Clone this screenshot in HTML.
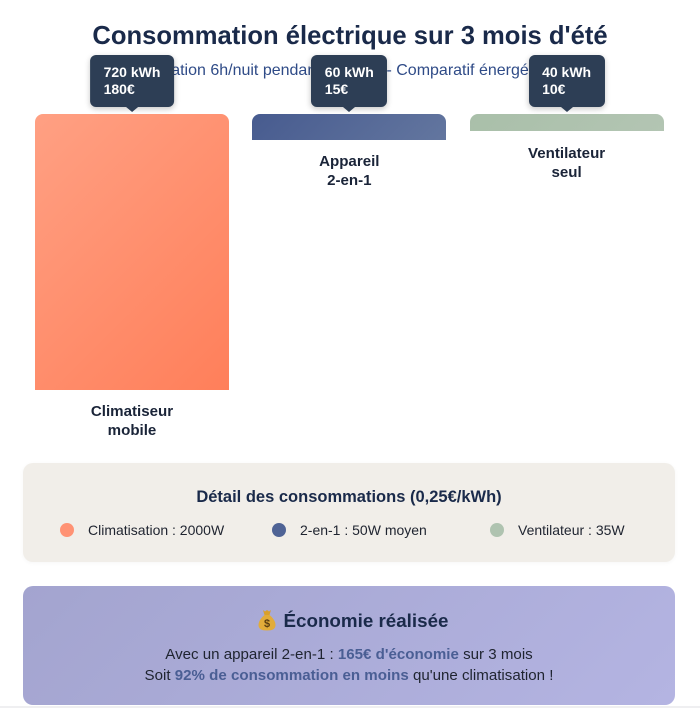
<!DOCTYPE html>
<html lang="fr">
<head>
<meta charset="utf-8">
<title>Consommation électrique sur 3 mois d'été</title>
<style>
html,body{margin:0;padding:0;background:#fff}
body{width:700px;height:708px;position:relative;overflow:hidden;font-family:"Liberation Sans",sans-serif;color:#1a1a2e}
.abs{position:absolute}
#title{left:0;width:700px;top:20px;text-align:center;font-size:25.6px;line-height:32px;font-weight:bold;color:#1a2a4a;white-space:nowrap}
#subtitle{left:0;width:700px;top:60px;text-align:center;font-size:16px;line-height:22px;color:#2f4b87;white-space:nowrap}
.bar{position:absolute;width:194px;top:113.8px;border-radius:8px 8px 0 0}
.tip{position:absolute;top:55px;height:52px;box-sizing:border-box;padding:9px 13.5px;background:#2d3e55;color:#fff;font-weight:bold;font-size:14px;line-height:16.5px;border-radius:6px;box-shadow:0 2px 6px rgba(0,0,0,.22);white-space:nowrap;transform:translateX(-50%)}
.tip:after{content:"";position:absolute;left:50%;margin-left:-6px;bottom:-5px;border-left:6px solid transparent;border-right:6px solid transparent;border-top:5px solid #2d3e55}
.lab{position:absolute;width:194px;text-align:center;font-weight:bold;font-size:15.1px;line-height:19px;color:#1a2438}
#legend{left:23px;top:463px;width:652px;height:99px;background:#f1eee9;border-radius:10px;box-shadow:0 1px 4px rgba(0,0,0,.04)}
#legend-title{left:0;width:652px;top:24px;text-align:center;font-size:16.5px;line-height:20px;font-weight:bold;color:#1a2a4a}
.dot{position:absolute;top:60px;width:14px;height:14px;border-radius:50%}
.lt{position:absolute;top:58px;font-size:14px;line-height:18px;color:#1f2430;white-space:nowrap}
#savings{left:23px;top:586px;width:652px;height:119px;border-radius:10px;background:linear-gradient(135deg,#a3a4cf,#b4b4e2)}
#savings-title{left:4px;width:652px;top:23px;text-align:center;font-size:18.8px;line-height:24px;font-weight:bold;color:#1a2a4a}
#savings-title svg{vertical-align:-4px;margin-right:8px}
.sl{position:absolute;left:0;width:652px;text-align:center;font-size:15.1px;line-height:20px;color:#1f2430;white-space:nowrap}
.sl b{color:#4a5e94}
#footer-line{left:0;top:706px;width:700px;height:2px;background:#efeff1}
</style>
</head>
<body>
<div id="title" class="abs">Consommation électrique sur 3 mois d'été</div>
<div id="subtitle" class="abs">Utilisation 6h/nuit pendant 90 jours - Comparatif énergétique</div>
<div id="chart"></div>

<div id="legend" class="abs">
  <div id="legend-title" class="abs">Détail des consommations (0,25€/kWh)</div>
  <div class="dot" style="left:37px;background:#ff9274"></div>
  <div class="lt" style="left:65px">Climatisation : 2000W</div>
  <div class="dot" style="left:249px;background:#4f6395"></div>
  <div class="lt" style="left:277px">2-en-1 : 50W moyen</div>
  <div class="dot" style="left:467px;background:#afc3b0"></div>
  <div class="lt" style="left:495px">Ventilateur : 35W</div>
</div>

<div id="savings" class="abs">
  <div id="savings-title" class="abs"><svg width="18" height="22" viewBox="0 0 18 22"><path d="M5 1l2 1.500L9 1l2 1.500L13 1l-1.500 5h-5z" fill="#d9a02c"/><path d="M6.500 6h5c3 2.500 6 6 6 10 0 4-3 5.500-8.500 5.500S.5 20 .5 16c0-4 3-7.500 6-10z" fill="#e2ac3a"/><text x="9" y="18" text-anchor="middle" font-size="11" font-weight="bold" fill="#5a3d10" font-family="Liberation Sans">$</text></svg>Économie réalisée</div>
  <div class="sl" style="top:59px">Avec un appareil 2-en-1 : <b>165€ d'économie</b> sur 3 mois</div>
  <div class="sl" style="top:80px">Soit <b>92% de consommation en moins</b> qu'une climatisation !</div>
</div>
<div id="footer-line" class="abs"></div>

<script>
const categories = [["Climatiseur", "mobile"], ["Appareil", "2-en-1"], ["Ventilateur", "seul"]];
const kwhValues = [720, 60, 40];
const euroValues = [180, 15, 10];
const barFills = [
  "linear-gradient(135deg,#ffa083,#ff7f5a)",
  "linear-gradient(135deg,#475b8f,#63769f)",
  "linear-gradient(135deg,#a9bfa9,#b3c5b3)"
];

function xScale(i) { return 35 + i * 217.3; }
function heightScale(v) { return 17.5 * Math.pow(v / 40, 0.954); }

const chart = document.getElementById('chart');
categories.forEach(function (cat, i) {
  const x = xScale(i);
  const h = heightScale(kwhValues[i]);

  const bar = document.createElement('div');
  bar.className = 'bar';
  
  
  bar.style.left = x + 'px';
  bar.style.height = h + 'px';
  bar.style.background = barFills[i];
  chart.appendChild(bar);

  const tip = document.createElement('div');
  tip.className = 'tip';
  
  
  tip.style.left = (x + 97) + 'px';
  tip.appendChild(document.createTextNode(kwhValues[i] + ' kWh'));
  tip.appendChild(document.createElement('br'));
  tip.appendChild(document.createTextNode(euroValues[i] + '€'));
  chart.appendChild(tip);

  const lab = document.createElement('div');
  lab.className = 'lab';
  
  
  lab.style.left = x + 'px';
  lab.style.top = (113.8 + h + 12.5) + 'px';
  lab.appendChild(document.createTextNode(cat[0]));
  lab.appendChild(document.createElement('br'));
  lab.appendChild(document.createTextNode(cat[1]));
  chart.appendChild(lab);
});
</script>
</body>
</html>
